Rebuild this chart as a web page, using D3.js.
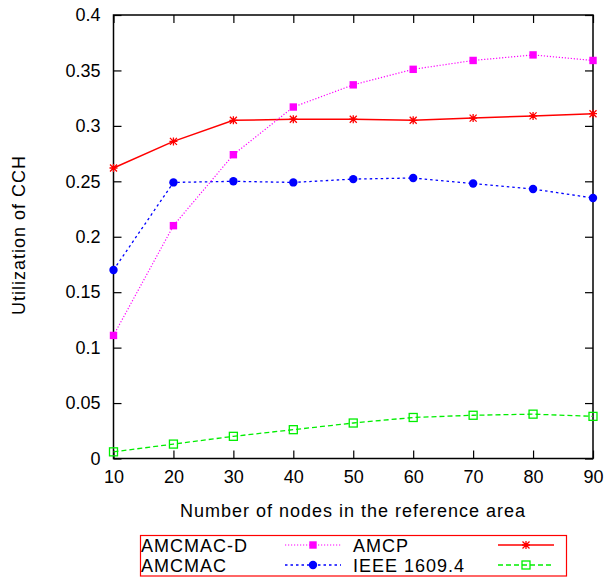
<!DOCTYPE html>
<meta charset="utf-8">
<style>
body { margin: 0; background: #fff; }
text { font-family: "Liberation Sans", Arial, Helvetica, sans-serif; fill: #000; }
.tick text { font-size: 18px; }
.lbl { font-size: 18px; letter-spacing: 1px; }
</style>
<body>
<script src="https://cdn.jsdelivr.net/npm/d3@7"></script>
<script>

var width = 608,
    height = 577;

var margin = {top: 15, right: 15, bottom: 118.5, left: 113.5};

var nodes = [10, 20, 30, 40, 50, 60, 70, 80, 90];
var amcmacD = [0.111, 0.210, 0.274, 0.317, 0.337, 0.351, 0.359, 0.364, 0.359];
var amcp    = [0.262, 0.286, 0.305, 0.306, 0.306, 0.305, 0.307, 0.309, 0.311];
var amcmac  = [0.170, 0.249, 0.250, 0.249, 0.252, 0.253, 0.248, 0.243, 0.235];
var ieee    = [0.006, 0.013, 0.020, 0.026, 0.032, 0.037, 0.039, 0.040, 0.038];

var yTicks = [0, 0.05, 0.1, 0.15, 0.2, 0.25, 0.3, 0.35, 0.4];

var series = [
  {name: "AMCMAC-D", values: amcmacD, color: "#ff00ff", dash: "1.2,1.8", marker: "fsquare", width: 1.2},
  {name: "AMCP", values: amcp, color: "#ff0000", dash: null, marker: "star", width: 1.5},
  {name: "AMCMAC", values: amcmac, color: "#0000ff", dash: "2.5,3", marker: "circle", width: 1.3},
  {name: "IEEE 1609.4", values: ieee, color: "#00ee00", dash: "5,3", marker: "osquare", width: 1.3}
];

var w = width - margin.left - margin.right,
    h = height - margin.top - margin.bottom;

var x = d3.scaleLinear().domain([10, 90]).range([0, w]);
var y = d3.scaleLinear().domain([0, 0.4]).range([h, 0]);

var svg = d3.select("body").append("svg")
    .attr("width", width)
    .attr("height", height);

var g = svg.append("g")
    .attr("transform", "translate(" + margin.left + "," + margin.top + ")");

var fmt = function(d) { return d3.format("")(+d.toFixed(2)); };

// axes with mirrored inner ticks
g.append("g")
    .attr("transform", "translate(0," + h + ")")
    .call(d3.axisBottom(x).tickValues(nodes).tickSize(-8).tickPadding(12).tickSizeOuter(0))
    .call(function(a) { a.select(".domain").remove(); });
g.append("g")
    .call(d3.axisTop(x).tickValues(nodes).tickSize(-8).tickFormat("").tickSizeOuter(0))
    .call(function(a) { a.select(".domain").remove(); });
g.append("g")
    .call(d3.axisLeft(y).tickValues(yTicks).tickFormat(fmt).tickSize(-8).tickPadding(13).tickSizeOuter(0))
    .call(function(a) { a.select(".domain").remove(); });
g.append("g")
    .attr("transform", "translate(" + w + ",0)")
    .call(d3.axisRight(y).tickValues(yTicks).tickSize(-8).tickFormat("").tickSizeOuter(0))
    .call(function(a) { a.select(".domain").remove(); });

g.selectAll(".tick line").attr("stroke", "#000").attr("stroke-width", 1.2);

g.append("rect")
    .attr("width", w)
    .attr("height", h)
    .attr("fill", "none")
    .attr("stroke", "#000")
    .attr("stroke-width", 1.5);

// axis titles
svg.append("text")
    .attr("class", "lbl")
    .attr("x", 353)
    .attr("y", 517)
    .attr("text-anchor", "middle")
    .text("Number of nodes in the reference area");

svg.append("text")
    .attr("class", "lbl")
    .attr("transform", "translate(25,235)rotate(-90)")
    .attr("text-anchor", "middle")
    .text("Utilization of CCH");

function drawMarker(sel, s) {
  if (s.marker == "fsquare") {
    sel.append("rect").attr("x", -3.7).attr("y", -3.7).attr("width", 7.4).attr("height", 7.4)
      .attr("fill", s.color);
  } else if (s.marker == "osquare") {
    sel.append("rect").attr("x", -4).attr("y", -4).attr("width", 8).attr("height", 8)
      .attr("fill", "none").attr("stroke", s.color).attr("stroke-width", 1.3);
  } else if (s.marker == "circle") {
    sel.append("circle").attr("r", 4.2).attr("fill", s.color);
  } else {
    sel.append("path")
      .attr("d", "M-4,0H4M0,-4V4M-3.5,-3.5L3.5,3.5M-3.5,3.5L3.5,-3.5")
      .attr("stroke", s.color).attr("stroke-width", 1.3).attr("fill", "none");
  }
}

var line = d3.line()
    .x(function(d, i) { return x(nodes[i]); })
    .y(function(d) { return y(d); });

// draw order: IEEE, AMCMAC, AMCP, AMCMAC-D
[3, 2, 1, 0].forEach(function(k) {
  var s = series[k];
  g.append("path")
      .datum(s.values)
      .attr("d", line)
      .attr("fill", "none")
      .attr("stroke", s.color)
      .attr("stroke-width", s.width)
      .attr("stroke-dasharray", s.dash);

  g.selectAll(".m" + k)
    .data(s.values)
    .enter().append("g")
      .attr("class", "m" + k)
      .attr("transform", function(d, i) { return "translate(" + x(nodes[i]) + "," + y(d) + ")"; })
      .each(function() { drawMarker(d3.select(this), s); });
});

// legend
var leg = svg.append("g");
leg.append("rect")
    .attr("x", 140.5).attr("y", 535.5)
    .attr("width", 426).attr("height", 40.5)
    .attr("fill", "none")
    .attr("stroke", "#ff0000")
    .attr("stroke-width", 1.2);

var legPos = [
  {tx: 141, lx: 285, row: 0},
  {tx: 353, lx: 498, row: 1},
  {tx: 141, lx: 285, row: 0},
  {tx: 353, lx: 498, row: 1}
];

series.forEach(function(s, k) {
  var rowY = k < 2 ? 545 : 565;
  var p = legPos[k];
  var e = leg.append("g");
  e.append("text")
      .attr("class", "lbl")
      .attr("x", p.tx)
      .attr("y", rowY + 7)
      .text(s.name);
  e.append("line")
      .attr("x1", p.lx).attr("x2", p.lx + 56)
      .attr("y1", rowY).attr("y2", rowY)
      .attr("stroke", s.color)
      .attr("stroke-width", s.width)
      .attr("stroke-dasharray", s.dash);
  var m = e.append("g").attr("transform", "translate(" + (p.lx + 28) + "," + rowY + ")");
  drawMarker(m, s);
});

</script>
